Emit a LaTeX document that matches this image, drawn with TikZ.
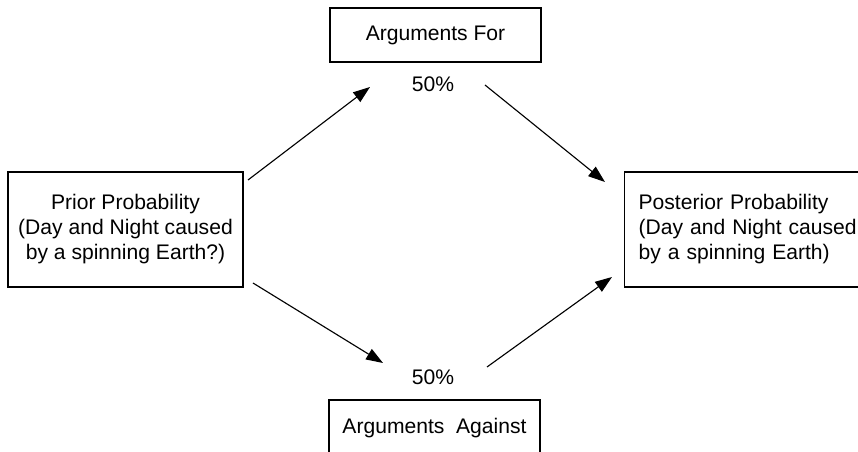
\documentclass[tikz,border=0pt]{standalone}
\usepackage{fontspec}
\setmainfont{Liberation Sans}
\usetikzlibrary{arrows.meta}

\tikzset{
  box/.style={draw, line width=0.9pt, inner sep=0pt, align=center},
  arr/.style={line width=0.8pt, -{Triangle[length=12pt,width=8.5pt]}}
}

\begin{document}
\begin{tikzpicture}[x=0.025cm, y=-0.025cm, font=\fontsize{15}{17.8}\selectfont]
\useasboundingbox (0,0) rectangle (858,452);
\clip (0,0) rectangle (858,452);

\node[box, minimum width=5.875cm, minimum height=2.875cm] (prior) at (125.5,229.5)
  {Prior Probability\\(Day and Night caused\\by a spinning Earth?)};
\node[box, minimum width=5.275cm, minimum height=1.35cm] (argfor) at (435.5,35) {Arguments For};
\node[box, minimum width=5.275cm, minimum height=1.4cm] (argagainst) at (434.5,428) {Arguments\ \ Against};
\node[box, anchor=west, minimum height=2.875cm, inner xsep=0.35cm, text width=6cm, align=left] (post) at (624,229.5)
  {Posterior Probability\\(Day and Night caused\\by a spinning Earth)};

\node (pctfor) at (433,84) {50\%};
\node (pctagainst) at (433,377) {50\%};

\coordinate (a1) at (248,180);
\coordinate (a2) at (370,87);
\coordinate (b1) at (485,85);
\coordinate (b2) at (605,182);
\coordinate (c1) at (253,283);
\coordinate (c2) at (383,363);
\coordinate (d1) at (487,367);
\coordinate (d2) at (612,277);

\draw[arr] (a1) -- (a2);
\draw[arr] (b1) -- (b2);
\draw[arr] (c1) -- (c2);
\draw[arr] (d1) -- (d2);

\end{tikzpicture}
\end{document}
